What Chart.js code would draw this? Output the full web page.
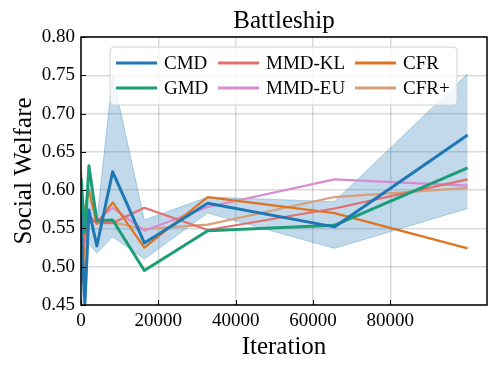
<!DOCTYPE html>
<html>
<head>
<meta charset="utf-8">
<script src="https://cdn.jsdelivr.net/npm/chart.js@4.4.1/dist/chart.umd.min.js"></script>
<style>
  html, body { margin: 0; padding: 0; background: #fff; }
  #wrap { width: 498px; height: 371px; }
</style>
</head>
<body>
<div id="wrap"><canvas id="chart" width="498" height="371"></canvas></div>
<script>
// Data
const iterations = [0, 512, 1024, 2048, 4096, 8192, 16384, 32768, 65536, 100000];
const cmd = [0.570, 0.500, 0.452, 0.574, 0.527, 0.624, 0.531, 0.583, 0.552, 0.672];
const gmd = [0.616, 0.580, 0.545, 0.632, 0.560, 0.561, 0.495, 0.547, 0.554, 0.629];
const mmdKl = [0.480, 0.525, 0.535, 0.565, 0.557, 0.557, 0.577, 0.548, 0.576, 0.614];
const mmdEu = [0.560, 0.555, 0.560, 0.565, 0.560, 0.577, 0.547, 0.578, 0.614, 0.606];
const cfr = [0.625, 0.480, 0.575, 0.600, 0.556, 0.584, 0.525, 0.591, 0.570, 0.524];
const cfrPlus = [0.560, 0.555, 0.560, 0.560, 0.558, 0.558, 0.549, 0.555, 0.591, 0.603];
// CMD spread band
const cmdUpper = [0.600, 0.560, 0.520, 0.625, 0.560, 0.750, 0.561, 0.591, 0.585, 0.752];
const cmdLower = [0.540, 0.450, 0.450, 0.530, 0.518, 0.539, 0.510, 0.570, 0.524, 0.576];

const xTicks = [0, 20000, 40000, 60000, 80000];
const yTicks = [0.45, 0.50, 0.55, 0.60, 0.65, 0.70, 0.75, 0.80];

const FONT = "'Liberation Serif', 'DejaVu Serif', serif";

function pts(values) {
  return values.map((v, i) => ({ x: iterations[i], y: v }));
}

function line(label, values, color, width, order) {
  return {
    label: label,
    data: pts(values),
    borderColor: color,
    backgroundColor: color,
    borderWidth: width,
    borderJoinStyle: "round",
    pointRadius: 0,
    tension: 0,
    fill: false,
    order: order,
    inLegend: true,
  };
}

const datasets = [
  line("CMD", cmd, "#1f77b4", 3, 0),
  line("GMD", gmd, "#1b9e77", 3, 1),
  line("MMD-KL", mmdKl, "#e0706e", 2.2, 2),
  line("MMD-EU", mmdEu, "#d98bd0", 2.2, 3),
  line("CFR", cfr, "#e0731f", 2.2, 2),
  line("CFR+", cfrPlus, "#d8a07a", 2.2, 4),
  {
    label: "band-upper",
    data: pts(cmdUpper),
    borderColor: "rgba(31,119,180,0.3)",
    borderWidth: 1,
    pointRadius: 0,
    fill: false,
    order: 10,
  },
  {
    label: "band-lower",
    data: pts(cmdLower),
    borderColor: "rgba(31,119,180,0.3)",
    backgroundColor: "rgba(31,119,180,0.28)",
    borderWidth: 1,
    pointRadius: 0,
    fill: "-1",
    order: 10,
  },
];

// frame, inward ticks and the in-plot legend
const decorations = {
  id: "decorations",
  afterDraw(chart) {
    const ctx = chart.ctx;
    const a = chart.chartArea;
    const xs = chart.scales.x;
    const ys = chart.scales.y;
    ctx.save();
    ctx.strokeStyle = "#000";
    ctx.lineWidth = 1;
    xTicks.forEach((v) => {
      const px = Math.round(xs.getPixelForValue(v)) + 0.5;
      ctx.beginPath();
      ctx.moveTo(px, a.bottom);
      ctx.lineTo(px, a.bottom - 5);
      ctx.stroke();
    });
    yTicks.forEach((v) => {
      const py = Math.round(ys.getPixelForValue(v)) + 0.5;
      ctx.beginPath();
      ctx.moveTo(a.left, py);
      ctx.lineTo(a.left + 5, py);
      ctx.stroke();
    });
    ctx.lineWidth = 1.5;
    ctx.strokeRect(a.left, a.top, a.right - a.left, a.bottom - a.top);

    // legend box
    const bx = 110, by = 47, bw = 347, bh = 58, r = 4;
    ctx.beginPath();
    ctx.moveTo(bx + r, by);
    ctx.arcTo(bx + bw, by, bx + bw, by + bh, r);
    ctx.arcTo(bx + bw, by + bh, bx, by + bh, r);
    ctx.arcTo(bx, by + bh, bx, by, r);
    ctx.arcTo(bx, by, bx + bw, by, r);
    ctx.closePath();
    ctx.fillStyle = "rgba(255,255,255,0.8)";
    ctx.fill();
    ctx.strokeStyle = "#d0d0d0";
    ctx.lineWidth = 1;
    ctx.stroke();

    const cols = [116, 218, 355];
    const rows = [63, 88];
    const items = chart.data.datasets.filter((d) => d.inLegend);
    ctx.font = "19px " + FONT;
    ctx.textBaseline = "middle";
    ctx.textAlign = "left";
    items.forEach((d, i) => {
      const cx = cols[Math.floor(i / 2)];
      const cy = rows[i % 2];
      ctx.strokeStyle = d.borderColor;
      ctx.lineWidth = 3;
      ctx.beginPath();
      ctx.moveTo(cx, cy);
      ctx.lineTo(cx + 41, cy);
      ctx.stroke();
      ctx.fillStyle = "#000";
      ctx.fillText(d.label, cx + 48, cy + 1);
    });
    ctx.restore();
  },
};

new Chart(document.getElementById("chart").getContext("2d"), {
  type: "line",
  data: { datasets: datasets },
  options: {
    responsive: false,
    animation: false,
    layout: { padding: { left: 0, right: 11, top: 0, bottom: 0 } },
    plugins: {
      legend: { display: false },
      tooltip: { enabled: false },
      title: {
        display: true,
        text: "Battleship",
        color: "#000",
        fullSize: false,
        font: { family: FONT, size: 25, weight: "normal" },
        padding: { top: 6, bottom: 1 },
      },
    },
    scales: {
      x: {
        type: "linear",
        min: 0,
        max: 105000,
        afterFit(s) { s.height = 66; },
        afterBuildTicks(s) { s.ticks = xTicks.map((v) => ({ value: v })); },
        grid: { color: "rgba(0,0,0,0.15)", lineWidth: 1.5, drawTicks: false },
        border: { display: false },
        ticks: {
          color: "#000",
          padding: 5,
          maxRotation: 0,
          font: { family: FONT, size: 19 },
          callback: (v) => String(v),
        },
        title: {
          display: true,
          text: "Iteration",
          color: "#000",
          font: { family: FONT, size: 25 },
          padding: { top: 0, bottom: 9 },
        },
      },
      y: {
        min: 0.45,
        max: 0.80,
        afterFit(s) { s.width = 81; },
        afterBuildTicks(s) { s.ticks = yTicks.map((v) => ({ value: v })); },
        grid: { color: "rgba(0,0,0,0.15)", lineWidth: 1.5, drawTicks: false },
        border: { display: false },
        ticks: {
          color: "#000",
          padding: 6,
          font: { family: FONT, size: 19 },
          callback: (v) => Number(v).toFixed(2),
        },
        title: {
          display: true,
          text: "Social Welfare",
          color: "#000",
          font: { family: FONT, size: 25 },
          padding: { top: 9, bottom: 0 },
        },
      },
    },
  },
  plugins: [decorations],
});
</script>
</body>
</html>
